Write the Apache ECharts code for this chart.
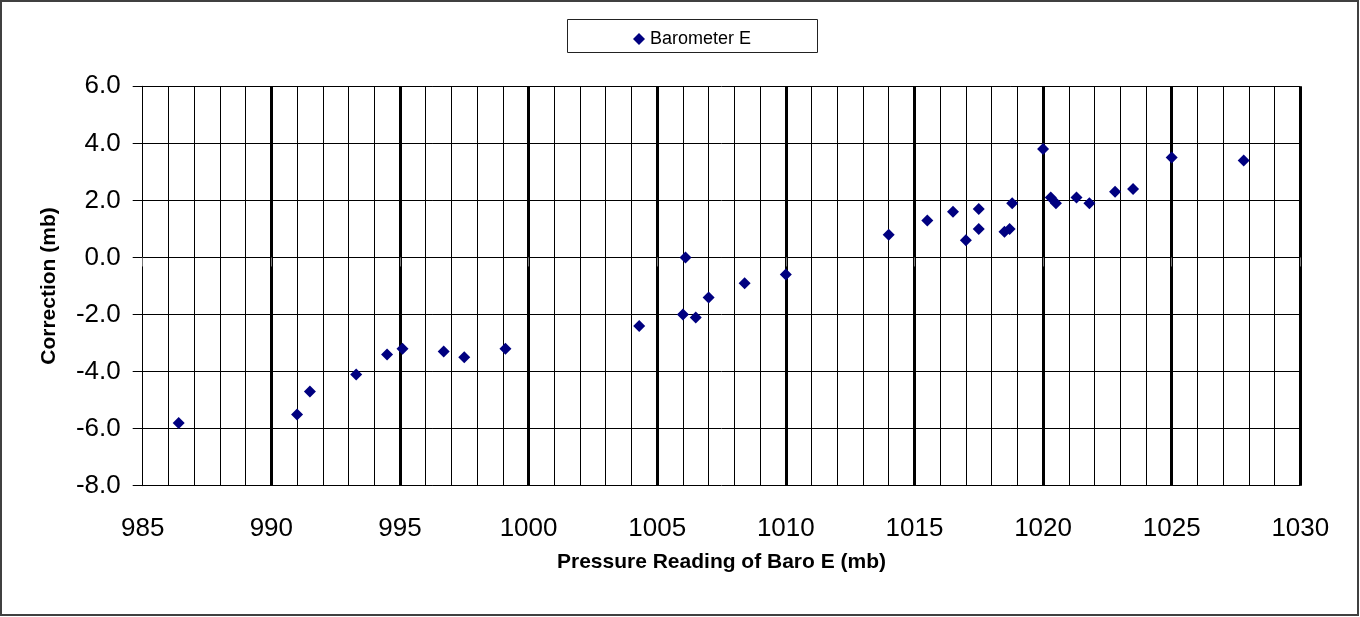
<!DOCTYPE html>
<html>
<head>
<meta charset="utf-8">
<script src="https://cdn.jsdelivr.net/npm/echarts@6/dist/echarts.min.js"></script>
<style>
html,body{margin:0;padding:0;background:#fff;}
#chart{width:1360px;height:617px;}
</style>
</head>
<body>
<div id="chart"></div>
<script>
const seriesName = 'Barometer E';
const pressure = [986.4, 991.0, 991.5, 993.3, 994.5, 995.1, 996.7, 997.5, 999.1, 1004.3,
  1006.0, 1006.1, 1006.5, 1007.0, 1008.4, 1010.0, 1014.0, 1015.5, 1016.5, 1017.0,
  1017.5, 1017.5, 1018.5, 1018.7, 1018.8, 1020.0, 1020.3, 1020.5, 1021.3, 1021.8,
  1022.8, 1023.5, 1025.0, 1027.8];
const correction = [-5.8, -5.5, -4.7, -4.1, -3.4, -3.2, -3.3, -3.5, -3.2, -2.4,
  -2.0, 0.0, -2.1, -1.4, -0.9, -0.6, 0.8, 1.3, 1.6, 0.6,
  1.7, 1.0, 0.9, 1.0, 1.9, 3.8, 2.1, 1.9, 2.1, 1.9,
  2.3, 2.4, 3.5, 3.4];
const xTitle = 'Pressure Reading of Baro E (mb)';
const yTitle = 'Correction (mb)';

const points = pressure.map((p, i) => [p, correction[i]]);
const font = '"Liberation Sans", Arial, sans-serif';

const chart = echarts.init(document.getElementById('chart'), null, {renderer: 'canvas'});
chart.setOption({
  animation: false,
  backgroundColor: '#fff',
  textStyle: {fontFamily: font},
  graphic: [
    {type: 'rect', shape: {x: 1, y: 1, width: 1357, height: 614},
     style: {fill: 'none', stroke: '#404040', lineWidth: 2}, z: 100, silent: true},
    {type: 'rect', shape: {x: 567.5, y: 19.5, width: 250, height: 33},
     style: {fill: '#fff', stroke: '#222', lineWidth: 1}, z: -1, silent: true}
  ],
  legend: {
    left: 633, top: 30,
    itemWidth: 12, itemHeight: 12, itemGap: 10,
    padding: 0,
    icon: 'diamond',
    itemStyle: {color: '#000080', opacity: 1},
    textStyle: {fontFamily: font, fontSize: 18, color: '#000'},
    data: [seriesName]
  },
  grid: {left: 142.7, right: 59.7, top: 86.3, bottom: 131.3, containLabel: false},
  xAxis: {
    type: 'value', min: 985, max: 1030, interval: 5,
    name: xTitle, nameLocation: 'middle', nameGap: 66,
    nameTextStyle: {fontFamily: font, fontSize: 21, fontWeight: 'bold', color: '#000'},
    axisLine: {show: true, lineStyle: {color: '#000', width: 1}},
    axisTick: {show: true, length: 9, lineStyle: {color: '#777', width: 1}},
    axisLabel: {fontFamily: font, fontSize: 26, color: '#000', margin: 30,
      formatter: v => String(v)},
    splitLine: {show: true, showMinLine: false, lineStyle: {color: '#000', width: 3}},
    minorTick: {show: false, splitNumber: 5},
    minorSplitLine: {show: true, lineStyle: {color: '#000', width: 1}}
  },
  yAxis: {
    type: 'value', min: -8, max: 6, interval: 2,
    name: yTitle, nameLocation: 'middle', nameGap: 83,
    nameTextStyle: {fontFamily: font, fontSize: 21, fontWeight: 'bold', color: '#000'},
    axisLine: {show: true, lineStyle: {color: '#000', width: 1}},
    axisTick: {show: true, length: 10, lineStyle: {color: '#000', width: 1}},
    axisLabel: {fontFamily: font, fontSize: 26, color: '#000', margin: 22,
      padding: [5, 0, 0, 0],
      formatter: v => v.toFixed(1)},
    splitLine: {show: true, lineStyle: {color: '#000', width: 1}}
  },
  series: [{
    name: seriesName,
    type: 'scatter',
    symbol: 'diamond',
    symbolSize: 12,
    itemStyle: {color: '#000080', opacity: 1},
    data: points,
    z: 5
  }]
});
</script>
</body>
</html>
